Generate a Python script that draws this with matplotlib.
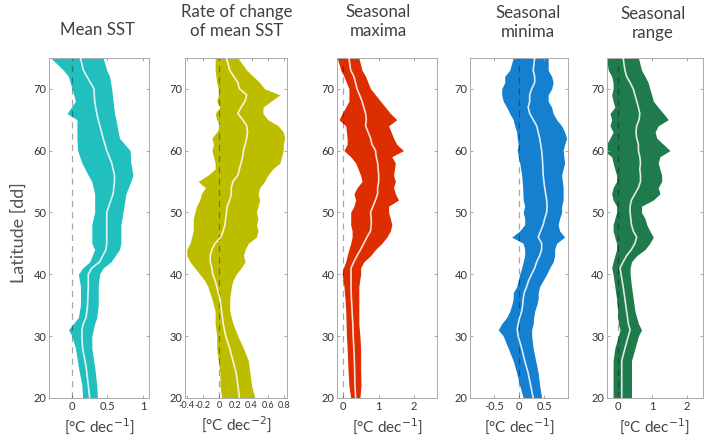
import matplotlib
matplotlib.use("Agg")
import matplotlib.pyplot as plt

# latitude [dd] and band (lower, mean, upper) per panel
lat1 = [75, 73, 72, 70, 68, 66, 65, 62, 60, 58, 56, 55, 53, 50, 48, 45, 44, 42, 41, 40, 38, 35, 33, 32, 31, 30, 28, 25, 22, 20]
lo1 = [-0.30, -0.12, -0.05, 0.00, 0.05, -0.07, 0.07, 0.07, 0.08, 0.14, 0.23, 0.28, 0.32, 0.32, 0.28, 0.28, 0.32, 0.25, 0.15, 0.09, 0.12, 0.12, 0.09, 0.02, -0.05, 0.00, 0.05, 0.09, 0.14, 0.15]
mid1 = [0.12, 0.16, 0.21, 0.31, 0.32, 0.35, 0.37, 0.44, 0.49, 0.56, 0.60, 0.60, 0.58, 0.49, 0.49, 0.49, 0.48, 0.39, 0.28, 0.23, 0.23, 0.22, 0.20, 0.16, 0.14, 0.14, 0.15, 0.20, 0.23, 0.25]
hi1 = [0.44, 0.49, 0.53, 0.56, 0.58, 0.60, 0.62, 0.67, 0.82, 0.83, 0.86, 0.83, 0.76, 0.72, 0.69, 0.69, 0.67, 0.55, 0.44, 0.39, 0.37, 0.37, 0.35, 0.32, 0.30, 0.28, 0.28, 0.32, 0.35, 0.36]

lat2 = [75, 73, 71, 70, 69, 68, 67, 66, 65, 64, 63, 62, 61, 60, 59, 58, 57, 56, 55, 54, 53, 52, 51, 50, 49, 48, 47, 46, 45, 44, 43, 42, 41, 40, 39, 38, 36, 34, 32, 30, 28, 26, 24, 22, 20]
lo2 = [-0.05, -0.05, -0.03, -0.01, -0.01, -0.03, 0.01, -0.05, -0.03, 0.01, -0.03, -0.09, -0.07, -0.09, -0.07, -0.05, -0.05, -0.14, -0.26, -0.17, -0.22, -0.24, -0.28, -0.30, -0.32, -0.32, -0.32, -0.34, -0.36, -0.40, -0.40, -0.36, -0.30, -0.24, -0.18, -0.14, -0.09, -0.05, -0.05, -0.03, -0.03, -0.01, 0.01, 0.01, 0.03]
mid2 = [0.09, 0.13, 0.23, 0.25, 0.34, 0.32, 0.27, 0.23, 0.29, 0.34, 0.35, 0.34, 0.32, 0.30, 0.29, 0.27, 0.25, 0.23, 0.17, 0.15, 0.15, 0.13, 0.10, 0.09, 0.08, 0.07, 0.05, 0.02, -0.05, -0.09, -0.11, -0.11, -0.09, -0.08, -0.05, -0.03, 0.01, 0.03, 0.05, 0.08, 0.13, 0.17, 0.21, 0.23, 0.25]
hi2 = [0.23, 0.34, 0.50, 0.56, 0.75, 0.64, 0.54, 0.54, 0.60, 0.73, 0.79, 0.81, 0.79, 0.79, 0.77, 0.75, 0.66, 0.60, 0.56, 0.50, 0.48, 0.50, 0.48, 0.46, 0.48, 0.46, 0.48, 0.46, 0.36, 0.32, 0.30, 0.32, 0.27, 0.21, 0.17, 0.15, 0.13, 0.13, 0.17, 0.23, 0.30, 0.36, 0.38, 0.40, 0.44]

lat3 = [75, 73, 72, 70, 68, 66, 65, 64, 62, 61, 60, 59, 58, 56, 55, 54, 53, 52, 51, 50, 49, 48, 47, 46, 45, 44, 43, 42, 41, 40, 38, 36, 34, 32, 30, 28, 25, 22, 20]
lo3 = [-0.17, -0.07, 0.02, 0.16, 0.16, -0.03, -0.12, 0.07, 0.11, 0.11, 0.02, 0.21, 0.35, 0.49, 0.53, 0.39, 0.30, 0.35, 0.30, 0.21, 0.21, 0.21, 0.25, 0.25, 0.21, 0.16, 0.11, 0.07, 0.00, -0.03, 0.02, 0.05, 0.07, 0.08, 0.09, 0.11, 0.13, 0.16, 0.21]
mid3 = [0.16, 0.21, 0.30, 0.39, 0.53, 0.63, 0.65, 0.63, 0.77, 0.81, 0.91, 0.93, 0.97, 1.00, 1.00, 0.97, 0.97, 0.91, 0.84, 0.77, 0.79, 0.79, 0.77, 0.67, 0.58, 0.49, 0.39, 0.30, 0.22, 0.22, 0.22, 0.23, 0.25, 0.27, 0.28, 0.30, 0.32, 0.33, 0.35]
hi3 = [0.44, 0.53, 0.63, 0.77, 1.05, 1.33, 1.51, 1.28, 1.42, 1.51, 1.70, 1.37, 1.47, 1.42, 1.47, 1.42, 1.47, 1.56, 1.28, 1.28, 1.33, 1.37, 1.33, 1.23, 1.09, 0.91, 0.77, 0.58, 0.49, 0.49, 0.44, 0.44, 0.44, 0.44, 0.47, 0.49, 0.49, 0.50, 0.47]

lat4 = [75, 73, 72, 71, 70, 69, 68, 67, 66, 65, 64, 63, 62, 61, 60, 58, 56, 54, 52, 51, 50, 49, 48, 47, 46, 45, 44, 43, 42, 41, 40, 39, 38, 37, 36, 35, 34, 33, 32, 31, 30, 28, 26, 24, 22, 20]
lo4 = [-0.12, -0.19, -0.29, -0.29, -0.35, -0.35, -0.32, -0.25, -0.19, -0.12, -0.09, -0.05, -0.04, -0.02, -0.04, 0.01, 0.05, 0.07, 0.08, 0.11, 0.08, 0.11, 0.11, 0.01, -0.15, 0.08, 0.11, 0.11, 0.08, 0.05, 0.01, -0.02, -0.05, -0.12, -0.12, -0.15, -0.19, -0.25, -0.35, -0.42, -0.32, -0.22, -0.12, -0.05, 0.01, 0.08]
mid4 = [0.31, 0.28, 0.31, 0.31, 0.25, 0.21, 0.21, 0.18, 0.21, 0.28, 0.35, 0.38, 0.41, 0.43, 0.45, 0.47, 0.48, 0.51, 0.55, 0.56, 0.55, 0.51, 0.48, 0.43, 0.38, 0.45, 0.45, 0.41, 0.35, 0.31, 0.25, 0.19, 0.15, 0.10, 0.08, 0.07, 0.05, 0.01, -0.02, -0.04, -0.02, 0.05, 0.11, 0.18, 0.23, 0.28]
hi4 = [0.58, 0.58, 0.65, 0.68, 0.65, 0.58, 0.58, 0.65, 0.68, 0.75, 0.85, 0.91, 0.95, 0.91, 0.88, 0.91, 0.85, 0.88, 0.88, 0.85, 0.85, 0.81, 0.78, 0.81, 0.91, 0.75, 0.71, 0.71, 0.68, 0.61, 0.55, 0.48, 0.41, 0.38, 0.38, 0.35, 0.31, 0.29, 0.28, 0.25, 0.25, 0.28, 0.33, 0.38, 0.41, 0.45]

lat5 = [75, 73, 72, 71, 70, 69, 68, 67, 66, 65, 64, 63, 62, 61, 60, 59, 58, 57, 56, 55, 54, 53, 52, 51, 50, 49, 48, 47, 46, 45, 44, 43, 42, 41, 40, 38, 36, 34, 32, 31, 30, 28, 26, 24, 22, 20]
lo5 = [-0.32, -0.27, -0.17, -0.13, -0.13, -0.17, -0.13, -0.08, -0.22, -0.17, -0.22, -0.13, -0.22, -0.32, -0.41, -0.17, -0.13, -0.08, -0.03, -0.03, -0.13, -0.17, -0.13, -0.03, -0.03, -0.08, -0.13, -0.13, -0.08, -0.03, -0.03, -0.08, -0.13, -0.17, -0.13, -0.08, -0.03, 0.00, 0.02, 0.07, 0.02, -0.08, -0.13, -0.13, -0.13, -0.13]
mid5 = [0.16, 0.21, 0.26, 0.36, 0.45, 0.50, 0.55, 0.60, 0.64, 0.62, 0.55, 0.53, 0.55, 0.60, 0.60, 0.64, 0.66, 0.64, 0.66, 0.66, 0.60, 0.50, 0.40, 0.36, 0.36, 0.38, 0.40, 0.45, 0.55, 0.50, 0.40, 0.26, 0.16, 0.07, 0.10, 0.16, 0.21, 0.26, 0.31, 0.36, 0.31, 0.21, 0.12, 0.12, 0.12, 0.12]
hi5 = [0.60, 0.69, 0.79, 0.88, 0.93, 0.98, 1.03, 1.17, 1.32, 1.46, 1.17, 1.08, 1.13, 1.32, 1.51, 1.22, 1.17, 1.22, 1.27, 1.27, 1.17, 1.22, 1.03, 0.69, 0.69, 0.79, 0.84, 0.93, 1.03, 0.93, 0.79, 0.55, 0.40, 0.36, 0.36, 0.40, 0.45, 0.50, 0.60, 0.69, 0.60, 0.50, 0.40, 0.40, 0.40, 0.40]

titles = ["Mean SST", "Rate of change\nof mean SST", "Seasonal\nmaxima", "Seasonal\nminima", "Seasonal\nrange"]
xlabels = [r"[°C dec$^{-1}$]", r"[°C dec$^{-2}$]", r"[°C dec$^{-1}$]", r"[°C dec$^{-1}$]", r"[°C dec$^{-1}$]"]
colors = ["#22bfbf", "#bdbd00", "#dc2e00", "#1580cf", "#1f7a4c"]
xticks = [[0, 0.5, 1], [-0.4, -0.2, 0, 0.2, 0.4, 0.6, 0.8], [0, 1, 2], [-0.5, 0, 0.5], [0, 1, 2]]
xticklabels = [["0", "0.5", "1"], ["-0.4", "-0.2", "0", "0.2", "0.4", "0.6", "0.8"],
               ["0", "1", "2"], ["-0.5", "0", "0.5"], ["0", "1", "2"]]
xlims = [(-0.32, 1.08), (-0.42, 0.84), (-0.17, 2.65), (-0.98, 0.98), (-0.31, 2.45)]
yticks = [20, 30, 40, 50, 60, 70]

lats = [lat1, lat2, lat3, lat4, lat5]
los = [lo1, lo2, lo3, lo4, lo5]
mids = [mid1, mid2, mid3, mid4, mid5]
his = [hi1, hi2, hi3, hi4, hi5]

# axes boxes in figure fractions
boxes = [(0.070, 0.106, 0.141, 0.764), (0.263, 0.106, 0.145, 0.764),
         (0.479, 0.106, 0.142, 0.764), (0.668, 0.106, 0.139, 0.764),
         (0.862, 0.106, 0.136, 0.764)]
# title centre (x px) and top (y px)
title_pos = [(97, 22), (237, 4), (378, 4), (528, 5), (653, 6)]

text_font = ["Lato", "DejaVu Sans"]

fig = plt.figure(figsize=(7.04, 4.45), dpi=100)

for i in range(5):
    ax = fig.add_axes(boxes[i])
    ax.fill_betweenx(lats[i], los[i], his[i], color=colors[i], linewidth=0, zorder=1)
    ax.plot(mids[i], lats[i], color="white", alpha=0.85, lw=1.2, zorder=3)
    ax.axvline(0, color="k", alpha=0.35, lw=0.9, ls=(0, (5, 4)), zorder=2)
    ax.set_xlim(*xlims[i])
    ax.set_ylim(20, 75)
    ax.set_xticks(xticks[i])
    ax.set_xticklabels(xticklabels[i], family=text_font, fontsize=8 if i != 1 else 6.6, color="#333333")
    ax.set_yticks(yticks)
    ax.set_yticklabels([str(v) for v in yticks], family=text_font, fontsize=8, color="#333333")
    ax.tick_params(direction="in", length=2.5, width=0.6, color="#999999", pad=2,
                   top=True, right=True)
    for s in ax.spines.values():
        s.set_color("#aaaaaa")
        s.set_linewidth(0.7)
    ax.set_xlabel(xlabels[i], family=text_font, fontsize=11, color="#444444", labelpad=3)
    tx, ty = title_pos[i]
    fig.text(tx / 704, 1 - ty / 445, titles[i], ha="center", va="top", family=text_font,
             fontsize=12.2, color="#404040", linespacing=1.2)

fig.text(19 / 704, 1 - 233 / 445, "Latitude [dd]", rotation=90, ha="center", va="center",
         family=text_font, fontsize=13, color="#555555")

fig.savefig("out.png", dpi=100)
